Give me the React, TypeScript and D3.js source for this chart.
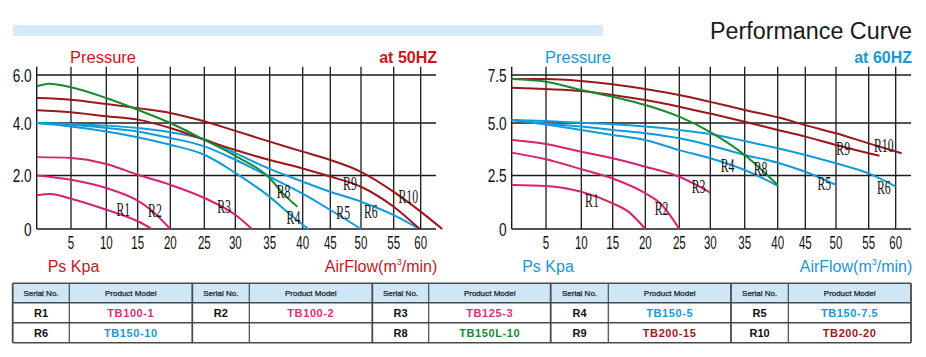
import React from "react";
import * as d3 from "d3";

// ---------- data ----------
const flowTicks = [5, 10, 15, 20, 25, 30, 35, 40, 45, 50, 55, 60];
const pressTicks50 = [0, 2, 4, 6];
const pressTickLabels50 = ["0", "2.0", "4.0", "6.0"];
const pressTicks60 = [0, 2.5, 5, 7.5];
const pressTickLabels60 = ["0", "2.5", "5.0", "7.5"];

// 50 Hz curves: [airflow m3/min, pressure kPa]
const r1_50 = [[0, 1.26], [2, 1.31], [5, 1.13], [10, 0.72], [15, 0.29], [17.2, 0]];
const r2_50 = [[0, 2.0], [5, 1.84], [10, 1.53], [15, 1.06], [17, 0.72], [20, 0]];
const r3_50 = [[0, 2.7], [5, 2.67], [10, 2.44], [15, 2.03], [20, 1.65], [25, 1.16], [30, 0.53], [32.4, 0]];
const r4_50 = [[0, 4.0], [5, 3.87], [10, 3.68], [15, 3.46], [20, 3.17], [25, 2.79], [30, 2.1], [35, 1.2], [38.5, 0.46], [41, 0]];
const r5_50 = [[0, 4.0], [5, 3.93], [10, 3.81], [15, 3.68], [20, 3.43], [25, 3.11], [30, 2.6], [35, 1.95], [40, 1.32], [45, 0.71], [50, 0]];
const r6_50 = [[0, 4.0], [5, 3.96], [10, 3.9], [15, 3.81], [20, 3.65], [25, 3.38], [30, 2.85], [35, 2.25], [40, 1.77], [45, 1.39], [50, 1.02], [55, 0.52], [59.8, 0]];
const r8_50 = [[0, 5.53], [1.8, 5.64], [5, 5.49], [10, 5.04], [15, 4.55], [20, 4.0], [25, 3.36], [30, 2.75], [35, 1.9], [37, 1.33], [39.2, 0.83]];
const r9_50 = [[0, 4.53], [5, 4.45], [10, 4.28], [15, 4.14], [20, 3.81], [25, 3.36], [30, 2.97], [35, 2.59], [40, 2.27], [45, 1.96], [50, 1.58], [55, 0.83], [59.8, 0]];
const r10_50 = [[0, 5.04], [5, 4.97], [10, 4.79], [15, 4.62], [20, 4.42], [25, 4.07], [30, 3.7], [35, 3.29], [40, 2.91], [45, 2.59], [50, 2.14], [55, 1.39], [60, 0.65], [64, 0]];

// 60 Hz curves
const r1_60 = [[0, 2.06], [5, 2.01], [10, 1.74], [15, 1.2], [17.4, 0.81], [20, 0]];
const r2_60 = [[0, 3.59], [5, 3.27], [10, 2.8], [15, 2.36], [20, 1.67], [22.2, 1.2], [25, 0]];
const r3_60 = [[0, 4.19], [5, 4.0], [10, 3.63], [15, 3.32], [20, 2.92], [25, 2.44], [30, 1.7]];
const r4_60 = [[0, 5.16], [5, 4.93], [10, 4.67], [15, 4.43], [20, 4.19], [25, 3.71], [30, 3.32], [35, 2.76], [40, 2.02]];
const r5_60 = [[0, 5.16], [5, 4.98], [10, 4.83], [15, 4.67], [20, 4.51], [25, 4.27], [30, 3.93], [35, 3.48], [40, 3.11], [45, 2.68], [50, 2.06]];
const r6_60 = [[0, 5.16], [5, 5.1], [10, 5.01], [15, 4.94], [20, 4.83], [25, 4.67], [30, 4.48], [35, 4.14], [40, 3.8], [45, 3.48], [50, 3.08], [55, 2.6], [60, 1.98]];
const r8_60 = [[0, 7.29], [5, 7.15], [10, 6.72], [15, 6.37], [20, 5.94], [25, 5.33], [30, 4.57], [35, 3.48], [40, 2.06]];
const r9_60 = [[0, 6.84], [5, 6.77], [10, 6.67], [15, 6.46], [20, 6.2], [25, 5.85], [30, 5.49], [35, 5.07], [40, 4.67], [45, 4.35], [50, 3.95], [55, 3.56], [57, 3.44]];
const r10_60 = [[0, 7.29], [5, 7.29], [10, 7.19], [15, 7.02], [20, 6.77], [25, 6.46], [30, 6.1], [35, 5.68], [40, 5.3], [45, 4.9], [50, 4.51], [55, 4.03], [61.1, 3.56]];

// curve label anchors [name, airflow, pressure]
const labels50 = [["R1", 12.7, 0.75], ["R2", 17.65, 0.71], ["R3", 28.2, 0.86], ["R8", 37.1, 1.39], ["R4", 38.6, 0.44], ["R5", 47.1, 0.61], ["R6", 51.5, 0.65], ["R9", 48.2, 1.71], ["R10", 57.7, 1.21]];
const labels60 = [["R1", 11.7, 1.36], ["R2", 22.4, 0.98], ["R3", 28.1, 2.01], ["R4", 32.5, 2.97], ["R8", 37.4, 2.86], ["R5", 48.1, 2.14], ["R6", 57.8, 1.95], ["R9", 51.1, 3.8], ["R10", 57.8, 3.95]];

// table
const serialRow1 = ["R1", "R2", "R3", "R4", "R5"];
const modelRow1 = ["TB100-1", "TB100-2", "TB125-3", "TB150-5", "TB150-7.5"];
const serialRow2 = ["R6", "", "R8", "R9", "R10"];
const modelRow2 = ["TB150-10", "", "TB150L-10", "TB200-15", "TB200-20"];

// ---------- styling ----------
const COLORS: Record<string, string> = {
  pink: "#d6226f",
  blue: "#119bdb",
  red: "#9c161b",
  green: "#178a2d",
};
const KIND: Record<string, string> = {
  R1: "pink", R2: "pink", R3: "pink", R4: "blue", R5: "blue", R6: "blue",
  R8: "green", R9: "red", R10: "red",
};
const TEXT_COLOR: Record<string, string> = {
  pink: "#d9307a",
  blue: "#1b97d4",
  red: "#a0161d",
  green: "#15893a",
};

const series50 = [
  ["R1", r1_50], ["R2", r2_50], ["R3", r3_50], ["R4", r4_50], ["R5", r5_50],
  ["R6", r6_50], ["R9", r9_50], ["R10", r10_50], ["R8", r8_50],
] as [string, number[][]][];
const series60 = [
  ["R1", r1_60], ["R2", r2_60], ["R3", r3_60], ["R4", r4_60], ["R5", r5_60],
  ["R6", r6_60], ["R9", r9_60], ["R10", r10_60], ["R8", r8_60],
] as [string, number[][]][];

// pixel layout of the (slightly uneven) printed grid
const X_REL = [0, 34.3, 69.6, 101, 133.6, 167.6, 198.6, 233, 266, 293.6, 324.3, 357, 384];
const Y_PIX = [229, 175.5, 123, 75];
const AXIS_LEN = 399.3;
const GRID_TOP = 66.7;

const SANS = "'Liberation Sans', Arial, Helvetica, sans-serif";
const SERIF = "'Liberation Serif', 'Times New Roman', serif";

function Chart({ x0, ticks, tickLabels, series, labels, accent, freq }: any) {
  const x = d3.scaleLinear().domain([0, ...flowTicks]).range(X_REL.map((d) => x0 + d));
  const y = d3.scaleLinear().domain(ticks).range(Y_PIX);
  const line = d3
    .line<number[]>()
    .x((d) => x(d[0]))
    .y((d) => y(d[1]))
    .curve(d3.curveMonotoneX);
  const xEnd = x0 + AXIS_LEN;
  return (
    <g>
      {/* grid */}
      <line x1={x0} x2={x0} y1={GRID_TOP} y2={y(0)} stroke="#1a1a1a" strokeWidth={1.4} />
      {flowTicks.map((t) => (
        <line key={"v" + t} x1={x(t)} x2={x(t)} y1={GRID_TOP} y2={y(0)} stroke="#1a1a1a" strokeWidth={1.3} />
      ))}
      {ticks.map((t: number) => (
        <line key={"h" + t} x1={x0} x2={xEnd} y1={y(t)} y2={y(t)} stroke="#1a1a1a" strokeWidth={1.3} />
      ))}
      {/* y tick labels */}
      {ticks.map((t: number, i: number) => (
        <text
          key={"yl" + t}
          transform={`translate(${x0 - 5},${y(t)}) scale(0.74,1)`}
          textAnchor="end"
          dy="0.36em"
          fontSize={18.5}
          fontFamily={SANS}
          fill="#111"
        >
          {tickLabels[i]}
        </text>
      ))}
      {/* x tick labels */}
      {flowTicks.map((t) => (
        <text
          key={"xl" + t}
          transform={`translate(${x(t)},${y(0) + 14}) scale(0.64,1)`}
          textAnchor="middle"
          dy="0.36em"
          fontSize={18}
          fontFamily={SANS}
          fill="#111"
        >
          {t}
        </text>
      ))}
      {/* curves */}
      {series.map(([id, pts]: [string, number[][]]) => (
        <path key={id} d={line(pts) || ""} fill="none" stroke={COLORS[KIND[id]]} strokeWidth={2} />
      ))}
      {/* curve labels */}
      {labels.map(([name, fx, fy]: [string, number, number]) => (
        <text
          key={"l" + name}
          transform={`translate(${x(fx)},${y(fy)}) scale(0.62,1)`}
          textAnchor="middle"
          dy="0.35em"
          fontSize={19}
          fontFamily={SERIF}
          fill="#111"
        >
          {name}
        </text>
      ))}
      {/* titles */}
      <text x={x(5) - 1} y={62.5} fontSize={16.5} fontFamily={SANS} fill={accent}>
        Pressure
      </text>
      <text x={xEnd + 1} y={63} textAnchor="end" fontSize={16} fontWeight="bold" fontFamily={SANS} fill={accent}>
        {freq}
      </text>
      <text x={x0 + (x0 < 100 ? 11 : 10.5)} y={272} fontSize={16} fontFamily={SANS} fill={accent}>
        Ps Kpa
      </text>
      <text x={xEnd + 1.3} y={272} textAnchor="end" fontSize={16} fontFamily={SANS} fill={accent}>
        AirFlow(m
        <tspan fontSize={9} dy={-7}>3</tspan>
        <tspan dy={7}>/min)</tspan>
      </text>
    </g>
  );
}

const TABLE_X = [12.7, 69.3, 192.3, 249.3, 372.3, 428.7, 550.7, 608.3, 731, 788.3, 911];
const TABLE_Y = [283.3, 302.7, 322.7, 342.7];

function Table() {
  const rows = [
    [serialRow1, modelRow1],
    [serialRow2, modelRow2],
  ];
  const cells: any[] = [];
  // header
  for (let i = 0; i < 10; i++) {
    const xa = TABLE_X[i], xb = TABLE_X[i + 1];
    cells.push(
      <rect key={"hb" + i} x={xa} y={TABLE_Y[0]} width={xb - xa} height={TABLE_Y[1] - TABLE_Y[0]} fill="#cfe6f7" />
    );
    cells.push(
      <text
        key={"ht" + i}
        x={(xa + xb) / 2}
        y={(TABLE_Y[0] + TABLE_Y[1]) / 2}
        dy="0.35em"
        textAnchor="middle"
        fontSize={8}
        fontFamily={SANS}
        fill="#222"
        stroke="#222"
        strokeWidth={0.25}
      >
        {i % 2 === 0 ? "Serial No." : "Product Model"}
      </text>
    );
  }
  rows.forEach(([serials, models], r) => {
    const cy = (TABLE_Y[r + 1] + TABLE_Y[r + 2]) / 2;
    serials.forEach((s, k) => {
      const xa = TABLE_X[2 * k], xb = TABLE_X[2 * k + 1], xc = TABLE_X[2 * k + 2];
      const kind = KIND[s];
      cells.push(
        <text key={`s${r}${k}`} x={(xa + xb) / 2} y={cy} dy="0.36em" textAnchor="middle" fontSize={11} fontWeight="bold" fontFamily={SANS} fill="#111">
          {s}
        </text>
      );
      cells.push(
        <text
          key={`m${r}${k}`}
          x={(xb + xc) / 2}
          y={cy}
          dy="0.36em"
          textAnchor="middle"
          fontSize={11}
          fontWeight="bold"
          fontFamily={SANS}
          letterSpacing={0.6}
          fill={kind ? TEXT_COLOR[kind] : "#111"}
        >
          {models[k]}
        </text>
      );
    });
  });
  const x1 = TABLE_X[0], x2 = TABLE_X[TABLE_X.length - 1];
  return (
    <g>
      {cells}
      {TABLE_Y.map((yy, i) => (
        <line key={"th" + i} x1={x1} x2={x2} y1={yy} y2={yy} stroke="#4a4a4a" strokeWidth={1.4} />
      ))}
      {TABLE_X.map((xx, i) => (
        <line
          key={"tv" + i}
          x1={xx}
          x2={xx}
          y1={TABLE_Y[0]}
          y2={TABLE_Y[3]}
          stroke="#4a4a4a"
          strokeWidth={i % 2 === 0 ? 1.8 : 1.2}
        />
      ))}
    </g>
  );
}

export default function App() {
  return (
    <svg
      width={926}
      height={357}
      viewBox="0 0 926 357"
      style={{ position: "absolute", left: 0, top: 0, background: "#fff" }}
    >
      <rect x={0} y={0} width={926} height={357} fill="#fff" />
      <rect x={13} y={25} width={590} height={11} fill="#d6eaf8" />
      <text x={912} y={38.5} textAnchor="end" fontSize={23.3} fontFamily={SANS} fill="#1a1a1a">
        Performance Curve
      </text>
      <Chart
        x0={36.7}
        ticks={pressTicks50}
        tickLabels={pressTickLabels50}
        series={series50}
        labels={labels50}
        accent="#c8161e"
        freq="at 50HZ"
      />
      <Chart
        x0={511.7}
        ticks={pressTicks60}
        tickLabels={pressTickLabels60}
        series={series60}
        labels={labels60}
        accent="#1a96d5"
        freq="at 60HZ"
      />
      <Table />
    </svg>
  );
}
